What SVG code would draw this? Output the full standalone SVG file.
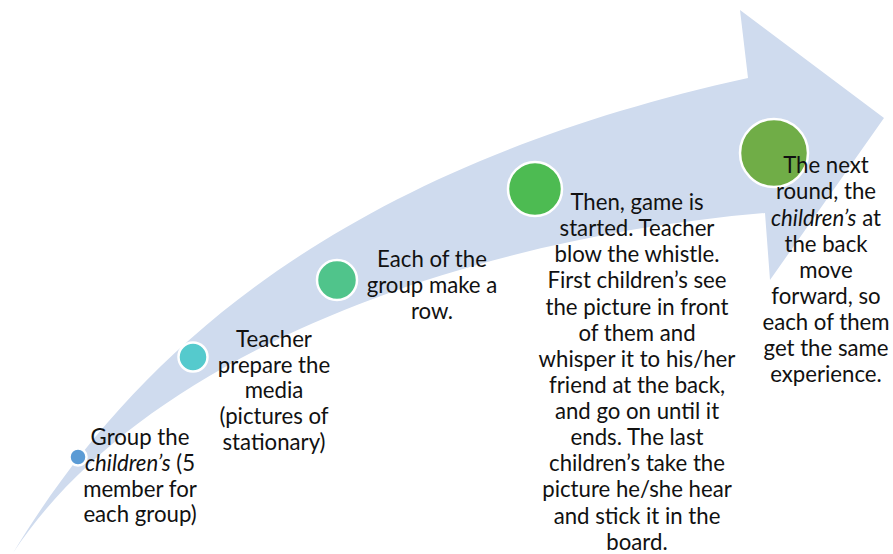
<svg xmlns="http://www.w3.org/2000/svg" width="893" height="554" viewBox="0 0 893 554">
  <style>
    .lbl { font-family: Lato, "Open Sans", "Liberation Sans", sans-serif; font-size: 22.2px; fill: #111111; text-anchor: middle; }
    .dot { stroke: #ffffff; stroke-width: 2.5; }
    .it { font-style: italic; }
  </style>
  <rect width="893" height="554" fill="#ffffff"/>

  <!-- curved progress arrow in the background -->
  <g id="arrow">
    <path d="M13,553 C130,360 330,170 748,78 L740,10 L884,118 L770,280 L765,213 C450,240 140,360 13,553 Z" fill="#CFDBEE"/>
  </g>

  <g id="step1">
    <circle class="dot" cx="78" cy="457" r="8.5" fill="#5B9BD5"/>
    <text class="lbl" x="140" y="445">Group the</text>
    <text class="lbl" x="140" y="471"><tspan class="it">children’s</tspan> (5</text>
    <text class="lbl" x="140" y="497">member for</text>
    <text class="lbl" x="140" y="522">each group)</text>
  </g>

  <g id="step2">
    <circle class="dot" cx="193" cy="357" r="14.5" fill="#55CACD"/>
    <text class="lbl" x="274" y="347">Teacher</text>
    <text class="lbl" x="274" y="373">prepare the</text>
    <text class="lbl" x="274" y="398">media</text>
    <text class="lbl" x="274" y="424">(pictures of</text>
    <text class="lbl" x="274" y="450">stationary)</text>
  </g>

  <g id="step3">
    <circle class="dot" cx="337" cy="280" r="20" fill="#50C48B"/>
    <text class="lbl" x="432" y="267">Each of the</text>
    <text class="lbl" x="432" y="293">group make a</text>
    <text class="lbl" x="432" y="319">row.</text>
  </g>

  <g id="step4">
    <circle class="dot" cx="535" cy="189" r="27" fill="#4DBB52"/>
    <text class="lbl" x="637" y="210">Then, game is</text>
    <text class="lbl" x="637" y="236">started. Teacher</text>
    <text class="lbl" x="637" y="262">blow the whistle.</text>
    <text class="lbl" x="637" y="288">First children’s see</text>
    <text class="lbl" x="637" y="315">the picture in front</text>
    <text class="lbl" x="637" y="341">of them and</text>
    <text class="lbl" x="637" y="367">whisper it to his/her</text>
    <text class="lbl" x="637" y="393">friend at the back,</text>
    <text class="lbl" x="637" y="419">and go on until it</text>
    <text class="lbl" x="637" y="445">ends. The last</text>
    <text class="lbl" x="637" y="471">children’s take the</text>
    <text class="lbl" x="637" y="497">picture he/she hear</text>
    <text class="lbl" x="637" y="524">and stick it in the</text>
    <text class="lbl" x="637" y="550">board.</text>
  </g>

  <g id="step5">
    <circle class="dot" cx="774" cy="153" r="34" fill="#70AD47"/>
    <text class="lbl" x="826" y="173">The next</text>
    <text class="lbl" x="826" y="199">round, the</text>
    <text class="lbl" x="826" y="226"><tspan class="it">children’s</tspan> at</text>
    <text class="lbl" x="826" y="252">the back</text>
    <text class="lbl" x="826" y="278">move</text>
    <text class="lbl" x="826" y="304">forward, so</text>
    <text class="lbl" x="826" y="330">each of them</text>
    <text class="lbl" x="826" y="356">get the same</text>
    <text class="lbl" x="826" y="382">experience.</text>
  </g>
</svg>
